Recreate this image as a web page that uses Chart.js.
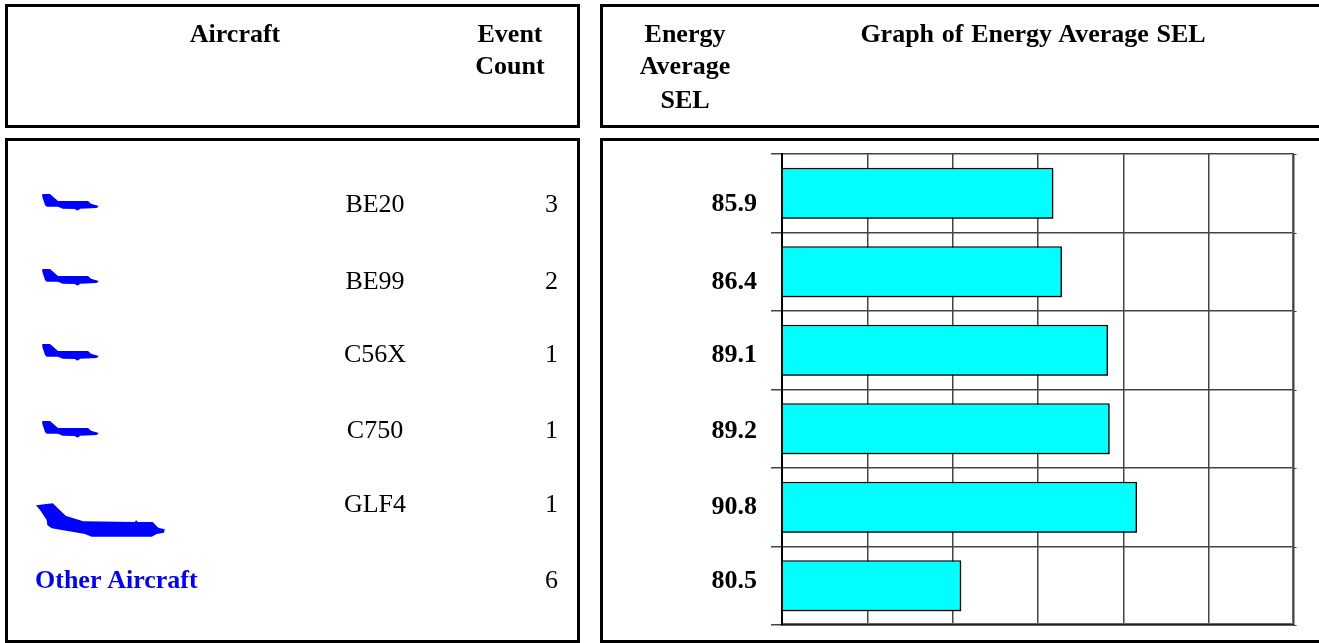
<!DOCTYPE html>
<html>
<head>
<meta charset="utf-8">
<script src="https://cdn.jsdelivr.net/npm/chart.js@4/dist/chart.umd.min.js"></script>
<style>
html,body{margin:0;padding:0;background:#fff;width:1319px;height:643px;overflow:hidden}
body{position:relative;font-family:"Liberation Serif",serif;font-size:26px;word-spacing:1.2px;color:#000}
#c{position:absolute;left:0;top:0;width:1319px;height:643px}
.panel{position:absolute;box-sizing:border-box;border:3.5px solid #000;background:#fff}
.t{position:absolute;white-space:nowrap;line-height:1;transform:translateY(-50%)}
.b{font-weight:bold}
.c{transform:translate(-50%,-50%)}
.r{transform:translate(-100%,-50%)}
svg{position:absolute;left:0;top:0}
</style>
</head>
<body>
<div class="panel" style="left:5px;top:4px;width:575px;height:124px"></div>
<div class="panel" style="left:600px;top:4px;width:730px;height:124px"></div>
<div class="panel" style="left:5px;top:138px;width:575px;height:505px"></div>
<div class="panel" style="left:600px;top:138px;width:730px;height:505px"></div>
<canvas id="c" width="1319" height="643"></canvas>
<svg width="1319" height="643" viewBox="0 0 1319 643" fill="#0000ff">
  <defs>
    <polygon id="small" points="0.3,0 8,0 16,7 46,7 49,9.7 56.7,12 54.7,14 38,14.7 36.7,16.3 34,16.3 33.3,15 20.7,14.7 16,12.7 4.7,12.7 3,11 0.3,2.7"/>
  </defs>
  <use href="#small" x="42" y="194"/>
  <use href="#small" x="42" y="269"/>
  <use href="#small" x="42" y="344"/>
  <use href="#small" x="42" y="421"/>
  <polygon points="36,505.3 52.7,503.3 66,516 83.3,521.3 135,522 136,520 137.7,522 152.7,522 158.3,527.7 164.7,529.3 164,532.7 156.7,534 151.7,536.7 91.7,536.7 85,534 51.7,528.3 47.3,525 46.7,520 40,510"/>
</svg>
<div id="labels"></div>
<script>
const aircraft = ["BE20", "BE99", "C56X", "C750", "GLF4", "Other Aircraft"];
const eventCounts = [3, 2, 1, 1, 1, 6];
const energyAvgSEL = [85.9, 86.4, 89.1, 89.2, 90.8, 80.5];
const xTicksRange = [70, 100];
const xStep = 5;
const rowY = [204, 281, 354, 430, 504, 580];
const valueY = [203, 281, 354, 430, 506, 580];

const headers = [
  ["Aircraft", 235, 34],
  ["Event", 510, 34],
  ["Count", 510, 66],
  ["Energy", 685, 34],
  ["Average", 685, 66],
  ["SEL", 685, 100],
  ["Graph of Energy Average SEL", 1033, 34]
];
const host = document.getElementById("labels");
function addText(text, x, y, cls, color) {
  const d = document.createElement("div");
  d.className = "t " + cls;
  d.textContent = text;
  d.style.left = x + "px";
  d.style.top = y + "px";
  if (color) d.style.color = color;
  host.appendChild(d);
}
headers.forEach(h => addText(h[0], h[1], h[2], "b c"));
aircraft.forEach((name, i) => {
  if (i < 5) addText(name, 375, rowY[i], "c");
  else addText(name, 35, rowY[i], "b", "#0000ff");
  addText(String(eventCounts[i]), 558, rowY[i], "r");
  addText(energyAvgSEL[i].toFixed(1), 757, valueY[i], "b r");
});

const decor = {
  id: "decor",
  beforeDatasetsDraw(chart) {
    const a = chart.chartArea, c = chart.ctx, n = chart.data.labels.length;
    c.save();
    c.strokeStyle = "#666";
    c.lineWidth = 1;
    c.beginPath();
    c.moveTo(a.left, a.bottom - 1.5);
    c.lineTo(a.right - 1.5, a.bottom - 1.5);
    c.lineTo(a.right - 1.5, a.top);
    c.stroke();
    c.strokeStyle = "#444";
    c.beginPath();
    for (let i = 0; i <= n; i++) {
      const y = Math.round(a.top + i * a.height / n) + 0.5;
      c.moveTo(a.right, y);
      c.lineTo(a.right + 2.5, y);
    }
    c.stroke();
    c.restore();
    c.save();
    c.shadowColor = "rgba(0,0,0,0.5)";
    c.shadowOffsetX = 1.5;
    c.shadowOffsetY = 1.5;
    c.shadowBlur = 0;
  },
  afterDatasetsDraw(chart) {
    const a = chart.chartArea, c = chart.ctx;
    c.restore();
    c.save();
    c.strokeStyle = "#000";
    c.lineWidth = 2;
    c.beginPath();
    c.moveTo(a.left, a.top);
    c.lineTo(a.left, a.bottom);
    c.stroke();
    c.restore();
  }
};

new Chart(document.getElementById("c"), {
  type: "bar",
  data: {
    labels: aircraft,
    datasets: [{
      data: energyAvgSEL,
      backgroundColor: "#00ffff",
      borderColor: "#000",
      borderWidth: 1.5,
      borderSkipped: false,
      barPercentage: 0.65,
      categoryPercentage: 1
    }]
  },
  options: {
    indexAxis: "y",
    responsive: false,
    animation: false,
    layout: { padding: { left: 771, top: 154, right: 25, bottom: 18 } },
    plugins: { legend: { display: false }, tooltip: { enabled: false } },
    scales: {
      x: {
        min: xTicksRange[0], max: xTicksRange[1],
        ticks: { stepSize: xStep, display: false },
        grid: { color: "#444", lineWidth: 1.5, tickLength: 0, drawTicks: false },
        border: { display: true, color: "#222", width: 1.5 }
      },
      y: {
        ticks: { display: false },
        grid: { color: "#444", lineWidth: 1.5, tickLength: 11, offset: true },
        border: { display: true, color: "#000", width: 2 }
      }
    }
  },
  plugins: [decor]
});
</script>
</body>
</html>
